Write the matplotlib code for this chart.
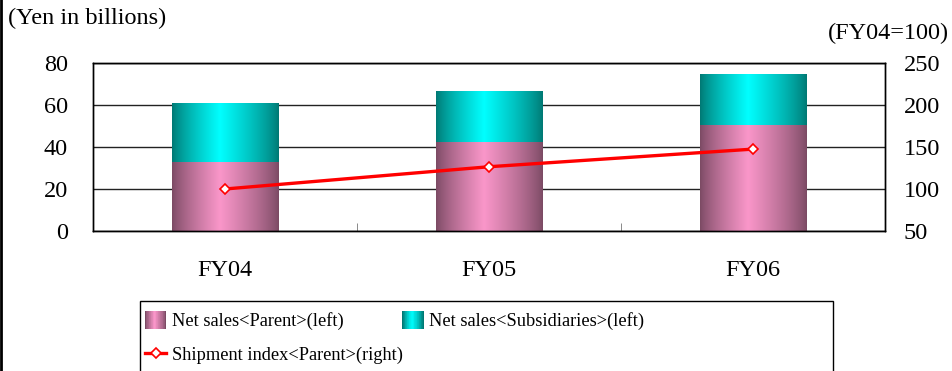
import numpy as np
import matplotlib
matplotlib.use("Agg")
import matplotlib.pyplot as plt
from matplotlib.patches import Rectangle, Patch
from matplotlib.lines import Line2D
from matplotlib.legend_handler import HandlerBase

plt.rcParams["font.family"] = ["Liberation Serif", "DejaVu Serif"]

# Data
years = ["FY04", "FY05", "FY06"]
sales_parent = [33.0, 42.5, 50.3]
sales_subs = [28.0, 24.2, 24.0]
shipment_index = [100, 126.5, 147.5]

pink_edge, pink_mid = (0.48, 0.29, 0.39), (0.98, 0.59, 0.79)
teal_edge, teal_mid = (0.0, 0.47, 0.45), (0.0, 1.0, 1.0)


def gradient(edge, mid, n=200, peak=0.45):
    t = np.linspace(0, 1, n)
    w = np.where(t < peak, t / peak, (1 - t) / (1 - peak))
    w = np.clip(w, 0, 1) ** 0.8
    edge, mid = np.array(edge), np.array(mid)
    return edge[None, :] * (1 - w[:, None]) + mid[None, :] * w[:, None]


class GradientHandler(HandlerBase):
    def __init__(self, edge, mid):
        super().__init__()
        self.cols = gradient(edge, mid, n=30)

    def create_artists(self, legend, orig_handle, xdescent, ydescent,
                       width, height, fontsize, trans):
        arts = []
        n = len(self.cols)
        for i, c in enumerate(self.cols):
            r = Rectangle((-xdescent + width * i / n, -ydescent - 1),
                          width / n * 1.05, height + 2, facecolor=c,
                          edgecolor="none", transform=trans)
            arts.append(r)
        return arts


fig = plt.figure(figsize=(9.52, 3.71), dpi=100)
ax = fig.add_axes([93 / 952, 1 - 231 / 371, 792 / 952, 168 / 371])
ax2 = ax.twinx()

x = np.arange(len(years))
width = 0.405
ax.set_xlim(-0.5, 2.5)
ax.set_ylim(0, 80)
ax2.set_ylim(50, 250)

bars_p = ax.bar(x, sales_parent, width, color="none", zorder=2)
bars_s = ax.bar(x, sales_subs, width, bottom=sales_parent, color="none", zorder=2)

# fill each bar with a horizontal shading
for bars, edge, mid in [(bars_p, pink_edge, pink_mid), (bars_s, teal_edge, teal_mid)]:
    img = gradient(edge, mid)[None, :, :]
    for b in bars:
        x0, y0 = b.get_x(), b.get_y()
        ax.imshow(img, extent=(x0, x0 + b.get_width(), y0, y0 + b.get_height()),
                  aspect="auto", interpolation="bilinear", zorder=2)
ax.set_xlim(-0.5, 2.5)
ax.set_ylim(0, 80)

ax.set_yticks([0, 20, 40, 60, 80])
ax.yaxis.grid(True, color="#222222", linewidth=1)
ax.set_axisbelow(True)
ax.tick_params(axis="y", length=0, pad=18, labelsize=17.5)
ax.set_xticks(x)
ax.set_xticklabels(years)
ax.set_xticks([0.5, 1.5], minor=True)
ax.tick_params(axis="x", which="major", length=0, pad=21, labelsize=17.5)
ax.tick_params(axis="x", which="minor", direction="in", length=6, color="#777777")

ax2.set_yticks([50, 100, 150, 200, 250])
ax2.tick_params(axis="y", length=0, pad=13.5, labelsize=17.5)
ax2.plot(x, shipment_index, color="red", linewidth=2.4, marker="D",
         markersize=5.5, markerfacecolor="white", markeredgecolor="red",
         markeredgewidth=1.2, zorder=5)

for a in (ax, ax2):
    for s in a.spines.values():
        s.set_color("black")
        s.set_linewidth(1)
ax.set_zorder(1)
ax2.set_zorder(2)
ax2.patch.set_visible(False)

fig.text(8 / 952, 1 - 18 / 371, "(Yen in billions)", fontsize=17.5, ha="left", va="center")
fig.text(949 / 952, 1 - 33 / 371, "(FY04=100)", fontsize=17.5, ha="right", va="center")

# legend
h_parent = Patch(label="Net sales<Parent>(left)")
h_subs = Patch(label="Net sales<Subsidiaries>(left)")
h_line = Line2D([], [], color="red", linewidth=2.4, marker="D", markersize=5.5,
                markerfacecolor="white", markeredgecolor="red", markeredgewidth=1.2,
                label="Shipment index<Parent>(right)")
fig.legend(handles=[h_parent, h_line, h_subs], ncol=2, frameon=False,
           loc="upper left", bbox_to_anchor=(145 / 952, 1 - 312 / 371),
           borderpad=0, borderaxespad=0, fontsize=13.2, handlelength=1.15,
           handleheight=0.9, handletextpad=0.3, columnspacing=0.0,
           labelspacing=0.9,
           handler_map={h_parent: GradientHandler(pink_edge, pink_mid),
                        h_subs: GradientHandler(teal_edge, teal_mid)})
fig.patches.append(Rectangle((140 / 952, -0.1), 693 / 952, 1 - 301 / 371 + 0.1,
                             transform=fig.transFigure, facecolor="none",
                             edgecolor="black", linewidth=1))
fig.lines.append(Line2D([1 / 952, 1 / 952], [0, 1], transform=fig.transFigure,
                        color="black", linewidth=2))

fig.savefig("out.png", dpi=100)
